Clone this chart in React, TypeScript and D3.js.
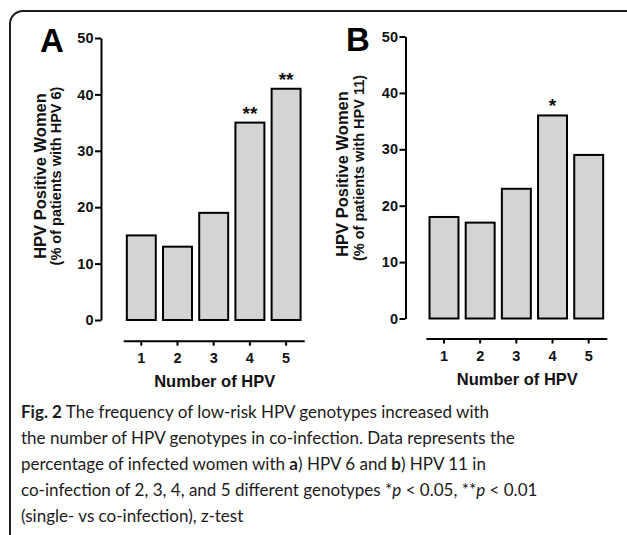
import React, { useEffect, useRef } from "react";
import * as d3 from "d3";

// data
const categories = ["1", "2", "3", "4", "5"];
const hpv6Values = [15, 13, 19, 35, 41];
const hpv11Values = [18, 17, 23, 36, 29];
const hpv6Marks = ["", "", "", "**", "**"];
const hpv11Marks = ["", "", "", "*", ""];
const yTicks = [0, 10, 20, 30, 40, 50];

// caption, split in runs: [text, style]
const captionLines: [string, string][][] = [
  [["Fig. 2", "b"], [" The frequency of low-risk HPV genotypes increased with", ""]],
  [["the number of HPV genotypes in co-infection. Data represents the", ""]],
  [["percentage of infected women with ", ""], ["a", "b"], [") HPV 6 and ", ""], ["b", "b"], [") HPV 11 in", ""]],
  [["co-infection of 2, 3, 4, and 5 different genotypes *", ""], ["p", "i"], [" < 0.05, **", ""], ["p", "i"], [" < 0.01", ""]],
  [["(single- vs co-infection), z-test", ""]],
];

const panels = [
  {
    letter: "A", values: hpv6Values, marks: hpv6Marks,
    label1: "HPV Positive Women", label2: "(% of patients with HPV 6)",
    axisX: 101, yTop: 38, yBottom: 320, xAxisY: 340.7, bandL: 123.2, bandR: 304.2,
    letterX: 40, letterY: 52, lab1X: 46, lab2X: 60.5, lab1Y: 176, lab2Y: 176, titleY: 387,
  },
  {
    letter: "B", values: hpv11Values, marks: hpv11Marks,
    label1: "HPV Positive Women", label2: "(% of patients with HPV 11)",
    axisX: 405.5, yTop: 36.5, yBottom: 318.5, xAxisY: 338.5, bandL: 425.9, bandR: 606.8,
    letterX: 346, letterY: 51, lab1X: 348, lab2X: 364, lab1Y: 174, lab2Y: 168, titleY: 385,
  },
];

const font = "'Liberation Sans', Arial, sans-serif";
const capFont = "Lato, 'Open Sans', sans-serif";

function App() {
  const ref = useRef<SVGSVGElement>(null);

  useEffect(() => {
    const svg = d3.select(ref.current);
    svg.selectAll("g.panel, g.caption").remove();

    panels.forEach(p => {
      const g = svg.append("g").attr("class", "panel");

      const y = d3.scaleLinear().domain([0, 50]).range([p.yBottom, p.yTop]);
      const x = d3.scaleBand().domain(categories).range([p.bandL, p.bandR])
        .paddingInner(0.2).paddingOuter(0.1);

      // y axis
      const yAxis = d3.axisLeft(y).tickValues(yTicks).tickSize(6).tickSizeOuter(0).tickPadding(1.5);
      const ya = g.append("g").attr("transform", `translate(${p.axisX},0)`).call(yAxis);
      ya.select(".domain").attr("stroke-width", 2);
      ya.selectAll(".tick line").attr("stroke-width", 2);
      ya.selectAll("text").attr("font-family", font).attr("font-weight", "bold")
        .attr("font-size", 14.5).attr("fill", "#111");

      // x axis, detached below bars
      const xAxis = d3.axisBottom(x).tickSize(5).tickSizeOuter(0).tickPadding(7);
      const xa = g.append("g").attr("transform", `translate(0,${p.xAxisY})`).call(xAxis);
      xa.select(".domain").attr("stroke-width", 2);
      xa.selectAll(".tick line").attr("stroke-width", 2);
      xa.selectAll("text").attr("font-family", font).attr("font-weight", "bold")
        .attr("font-size", 14.5).attr("fill", "#111");

      // bars
      g.selectAll("rect.bar").data(p.values).enter().append("rect")
        .attr("class", "bar")
        .attr("x", (d, i) => x(categories[i])!)
        .attr("y", d => y(d))
        .attr("width", x.bandwidth())
        .attr("height", d => y(0) - y(d))
        .attr("fill", "#d4d4d4")
        .attr("stroke", "#000")
        .attr("stroke-width", 2);

      g.selectAll("text.mark").data(p.marks).enter().append("text")
        .attr("class", "mark")
        .attr("x", (d, i) => x(categories[i])! + x.bandwidth() / 2)
        .attr("y", (d, i) => y(p.values[i]) - 3)
        .attr("text-anchor", "middle")
        .attr("font-family", font).attr("font-weight", "bold").attr("font-size", 19).attr("fill", "#111")
        .text(d => d);

      // labels
      g.append("text").attr("x", p.letterX).attr("y", p.letterY)
        .attr("font-family", font).attr("font-weight", "bold").attr("font-size", 33)
        .text(p.letter);

      g.append("text").attr("transform", `translate(${p.lab1X},${p.lab1Y}) rotate(-90)`)
        .attr("text-anchor", "middle").attr("font-family", font).attr("font-weight", "bold")
        .attr("font-size", 16.5).attr("fill", "#111").text(p.label1);
      g.append("text").attr("transform", `translate(${p.lab2X},${p.lab2Y}) rotate(-90)`)
        .attr("text-anchor", "middle").attr("font-family", font).attr("font-weight", "bold")
        .attr("font-size", 14.5).attr("fill", "#111").text(p.label2);

      g.append("text").attr("x", (p.bandL + p.bandR) / 2 + 1).attr("y", p.titleY)
        .attr("text-anchor", "middle").attr("font-family", font).attr("font-weight", "bold")
        .attr("font-size", 16.5).attr("fill", "#111").text("Number of HPV");
    });

    // caption: size the font so the longest line fits the figure width
    const cap = svg.append("g").attr("class", "caption")
      .attr("font-family", capFont).attr("fill", "#1c1a1b");
    const texts = captionLines.map((runs, i) => {
      const t = cap.append("text").attr("x", 21).attr("y", 418 + i * 26);
      runs.forEach(([s, st]) => {
        t.append("tspan")
          .attr("font-weight", st === "b" ? "bold" : null)
          .attr("font-style", st === "i" ? "italic" : null)
          .text(s);
      });
      return t;
    });
    cap.attr("font-size", 19);
    const w = (texts[1].node() as SVGTextElement).getComputedTextLength();
    cap.attr("font-size", Math.min(21, 19 * 494 / w));
  }, []);

  return (
    <svg ref={ref} width={627} height={535}
      style={{ position: "absolute", left: 0, top: 0, background: "#fff" }}>
      <rect x={10} y={11} width={700} height={600} rx={13} fill="none" stroke="#1e1e1e" strokeWidth={2} />
    </svg>
  );
}

export default App;
